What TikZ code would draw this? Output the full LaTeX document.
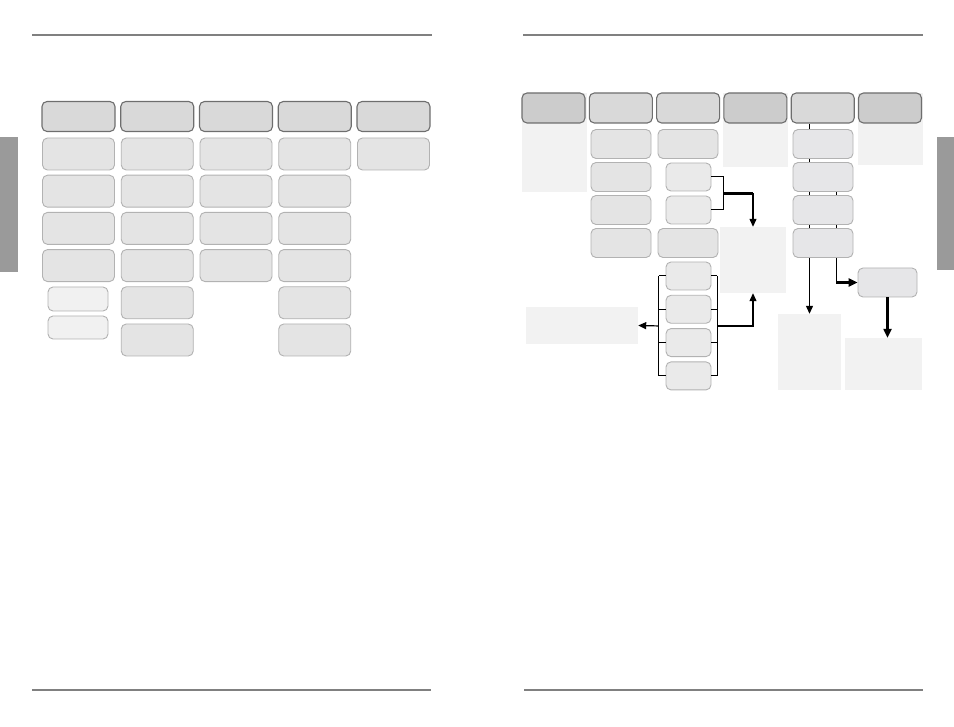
\documentclass[tikz,border=0pt]{standalone}
\usetikzlibrary{arrows.meta,calc,backgrounds}
\definecolor{rulegray}{HTML}{808080}
\definecolor{tabgray}{HTML}{9A9A9A}
\definecolor{headfill}{HTML}{D9D9D9}
\definecolor{darkfill}{HTML}{CCCCCC}
\definecolor{bodyfill}{HTML}{E4E4E4}
\definecolor{lightfill}{HTML}{EAEAEA}
\definecolor{palefill}{HTML}{F1F1F1}
\definecolor{panelfill}{HTML}{F2F2F2}
\definecolor{colfill}{HTML}{E6E6E8}

\begin{document}
\begin{tikzpicture}[x=1pt,y=-1pt,
  rule/.style={rulegray,line width=1.3pt},
  box/.style={draw=black!30,fill=bodyfill,rounded corners=5pt,line width=.9pt,inner sep=0pt,minimum width=72pt,minimum height=32pt},
  headbox/.style={box,draw=black!57,fill=headfill,minimum width=73pt,minimum height=30pt,line width=1.1pt},
  smallbox/.style={box,fill=palefill,minimum width=60pt,minimum height=24pt},
  righthead/.style={headbox,minimum width=63pt},
  rbox/.style={box,minimum width=60pt,minimum height=29pt},
  nbox/.style={rbox,fill=lightfill,minimum width=45pt,minimum height=28pt},
  panel/.style={fill=panelfill,inner sep=0pt},
  link/.style={line width=1pt},
  arr/.style={-{Triangle[length=8pt,width=7pt]},line width=1.2pt},
  heavy/.style={line width=2.2pt},
  heavyarr/.style={-{Triangle[length=9pt,width=8pt]},line width=2.2pt}]
\useasboundingbox (0,0) rectangle (954,727);
\draw[rule] (32,35) -- (432,35);
\draw[rule] (523,35) -- (923,35);
\draw[rule] (32,690) -- (431,690);
\draw[rule] (524,690) -- (923,690);
\fill[tabgray] (0,137) rectangle (18,272);
\fill[tabgray] (937,137) rectangle (954,270);
\foreach \c in {1,...,5}
  \node[headbox] (LH\c) at ({78.5+78.75*(\c-1)},116.5) {};
\foreach \c/\n in {1/4,2/6,3/4,4/6,5/1}
  \foreach \r in {1,...,\n}
    \node[box] (L\c-\r) at ({78.5+78.75*(\c-1)},{154+37.2*(\r-1)}) {};
\node[smallbox] (LS1) at (78,299) {};
\node[smallbox,minimum height=23pt] (LS2) at (78,327.5) {};
\node[panel,minimum width=65pt,minimum height=99pt] (P1) at (554.5,142.5) {};
\node[panel,minimum width=65pt,minimum height=74pt] (P4) at (755.5,130) {};
\node[panel,minimum width=65pt,minimum height=72pt] (P6) at (890.5,129) {};
\foreach \c/\fillc in {1/darkfill,2/headfill,3/headfill,4/darkfill,5/headfill,6/darkfill}
  \node[righthead,fill=\fillc] (RH\c) at ({553.5+67.3*(\c-1)},108) {};
\foreach \r in {1,...,4}{
  \node[rbox] (C2-\r) at (621,{144+33*(\r-1)}) {};
  \node[rbox,fill=colfill] (C5-\r) at (823,{144+33*(\r-1)}) {};
}
\node[rbox] (C3-1) at (688,144) {};
\node[nbox] (C3-2) at (688.5,177) {};
\node[nbox] (C3-3) at (688.5,210) {};
\node[rbox] (C3-4) at (688,243) {};
\foreach \i in {1,...,4}
  \node[nbox] (B\i) at (688.5,{276+33.3*(\i-1)}) {};
\node[panel,minimum width=66pt,minimum height=66pt] (M) at (753,260) {};
\node[panel,minimum width=112pt,minimum height=37pt] (LP) at (582,325.5) {};
\node[panel,minimum width=63pt,minimum height=76pt] (Q5) at (809.5,352) {};
\node[panel,minimum width=77pt,minimum height=52pt] (RP) at (883.5,364) {};
\node[rbox,fill=colfill,minimum width=59pt] (T) at (887.5,282.5) {};
\draw[link] (C3-2.east) -- ++(12,0) coordinate (b1) |- (C3-3.east);
\coordinate (b2) at (b1 |- C3-3.east);
\coordinate (bm) at ($(b1)!.5!(b2)$);
\draw[heavy] (bm) -- (bm -| M.north) coordinate (bt);
\draw[arr] (bt) -- (M.north);
\foreach \i in {1,...,4}
  \draw[link] (B\i.west) -- ++(-7,0) (B\i.east) -- ++(6,0);
\draw[link] ([xshift=-7pt]B1.west) -- ([xshift=-7pt]B4.west);
\draw[link] ([xshift=6pt]B1.east) -- ([xshift=6pt]B4.east);
\draw[arr] ($(B2.east)!.5!(B3.east)+(6,0)$) -| (M.south);
\draw[arr] ($(B2.west)!.5!(B3.west)+(-7,0)$) -- (LP.east);
\begin{scope}[on background layer]
\draw[arr] (Q5.north |- RH5.south) -- (Q5.north);
\draw[link] ([xshift=13pt]C5-2.south) -- ([xshift=13pt]C5-2.south |- T.west) coordinate (tk);
\end{scope}
\draw[heavyarr] (tk) -- (T.west);
\draw[heavyarr] (T.south) -- (T.south |- RP.north);
\end{tikzpicture}
\end{document}
